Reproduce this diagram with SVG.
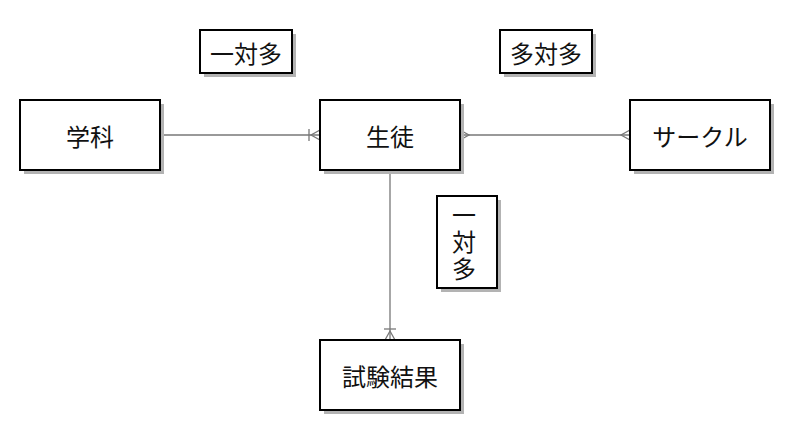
<svg xmlns="http://www.w3.org/2000/svg" width="790" height="430" viewBox="0 0 790 430">
<style>
.sh{fill:#b3b3b3;stroke:none}
.bx{fill:#fff;stroke:#000;stroke-width:2}
.t{font-family:"Noto Sans CJK JP","Noto Sans CJK SC",sans-serif;font-size:24px;fill:#111;text-anchor:middle;dominant-baseline:central}
.v{font-family:"Noto Sans CJK JP","Noto Sans CJK SC",sans-serif;font-size:24px;fill:#111;text-anchor:middle;writing-mode:vertical-rl;letter-spacing:3px}
.c{stroke:#777;stroke-width:1.3;fill:none}
</style>
<rect width="790" height="430" fill="#fff"/>
<g id="connectors">
<line class="c" x1="160" y1="135" x2="320" y2="135"/>
<line class="c" x1="309" y1="129" x2="309" y2="141"/>
<polyline class="c" points="320,130 311,135 320,140"/>
<line class="c" x1="460" y1="135" x2="630" y2="135"/>
<polyline class="c" points="460,130 469,135 460,140"/>
<polyline class="c" points="630,130 621,135 630,140"/>
<line class="c" x1="390" y1="170" x2="390" y2="340"/>
<line class="c" x1="384" y1="329" x2="396" y2="329"/>
<polyline class="c" points="385,340 390,331 395,340"/>
</g>
<g id="gakka">
<rect class="sh" x="24" y="104" width="140" height="70"/>
<rect class="bx" x="20" y="100" width="140" height="70"/>
<text class="t" x="90" y="135">学科</text>
</g>
<g id="seito">
<rect class="sh" x="324" y="104" width="140" height="70"/>
<rect class="bx" x="320" y="100" width="140" height="70"/>
<text class="t" x="390" y="135">生徒</text>
</g>
<g id="circle">
<rect class="sh" x="634" y="104" width="140" height="70"/>
<rect class="bx" x="630" y="100" width="140" height="70"/>
<text class="t" x="700" y="135">サークル</text>
</g>
<g id="shiken">
<rect class="sh" x="324" y="344" width="140" height="70"/>
<rect class="bx" x="320" y="340" width="140" height="70"/>
<text class="t" x="390" y="375">試験結果</text>
</g>
<g id="label1">
<rect class="sh" x="204" y="34" width="92" height="43"/>
<rect class="bx" x="200" y="30" width="92" height="43"/>
<text class="t" x="246" y="52">一対多</text>
</g>
<g id="label2">
<rect class="sh" x="504" y="34" width="92" height="43"/>
<rect class="bx" x="500" y="30" width="92" height="43"/>
<text class="t" x="546" y="52">多対多</text>
</g>
<g id="label3">
<rect class="sh" x="441" y="200" width="60" height="92"/>
<rect class="bx" x="437" y="196" width="60" height="92"/>
<text class="v" x="464" y="243">一対多</text>
</g>
</svg>
